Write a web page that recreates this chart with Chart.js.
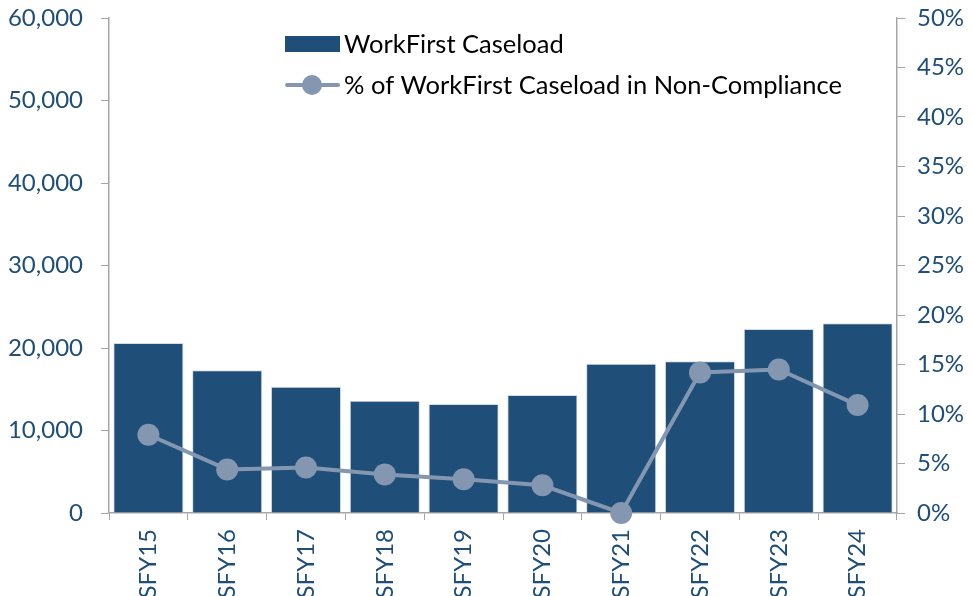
<!DOCTYPE html>
<html>
<head>
<meta charset="utf-8">
<script src="https://cdn.jsdelivr.net/npm/chart.js@4/dist/chart.umd.min.js"></script>
<style>
  html, body { margin: 0; padding: 0; background: #fff; }
  #wrap { width: 972px; height: 596px; }
</style>
</head>
<body>
<div id="wrap"><canvas id="chart" width="972" height="596"></canvas></div>
<script>
const years = ["SFY15", "SFY16", "SFY17", "SFY18", "SFY19", "SFY20", "SFY21", "SFY22", "SFY23", "SFY24"];
const caseload = [20600, 17300, 15300, 13600, 13200, 14300, 18100, 18400, 22300, 23000];
const nonCompliancePct = [7.9, 4.4, 4.6, 3.9, 3.4, 2.8, 0, 14.2, 14.5, 10.9];

const barLabel = "WorkFirst Caseload";
const lineLabel = "% of WorkFirst Caseload in Non-Compliance";

const barColor = "#1F4E79";
const lineColor = "#8497B0";
const tickColor = "#1F4E79";
const axisColor = "#A6A6A6";
const fontFamily = "Lato, 'Liberation Sans', sans-serif";

// legend sits inside the plot, drawn by hand
const insideLegend = {
    id: "insideLegend",
    afterDraw(chart) {
        const ctx = chart.ctx;
        ctx.save();
        ctx.font = "25.5px " + fontFamily;
        ctx.textBaseline = "middle";

        ctx.fillStyle = barColor;
        ctx.fillRect(285, 36, 55, 16);
        ctx.fillStyle = "#000";
        ctx.fillText(barLabel, 344, 45);

        ctx.strokeStyle = lineColor;
        ctx.lineWidth = 4;
        ctx.lineCap = "round";
        ctx.beginPath();
        ctx.moveTo(287, 85);
        ctx.lineTo(338, 85);
        ctx.stroke();
        ctx.fillStyle = lineColor;
        ctx.beginPath();
        ctx.arc(312, 85, 10, 0, Math.PI * 2);
        ctx.fill();
        ctx.fillStyle = "#000";
        ctx.fillText(lineLabel, 344, 86);
        ctx.restore();
    }
};

function fixSide(width) {
    return function (scale) {
        scale.width = width;
        scale.paddingTop = 0;
        scale.paddingBottom = 0;
    };
}

const ctx = document.getElementById("chart").getContext("2d");

new Chart(ctx, {
    type: "bar",
    data: {
        labels: years,
        datasets: [
            {
                type: "line",
                label: lineLabel,
                data: nonCompliancePct,
                yAxisID: "y2",
                borderColor: lineColor,
                backgroundColor: lineColor,
                borderWidth: 4,
                pointRadius: 11,
                pointHoverRadius: 11,
                pointBorderWidth: 0,
                tension: 0,
                clip: false,
                order: 0
            },
            {
                type: "bar",
                label: barLabel,
                data: caseload,
                yAxisID: "y",
                backgroundColor: barColor,
                borderColor: "#D6DCE5",
                borderWidth: 1,
                barPercentage: 0.89,
                categoryPercentage: 1.0,
                order: 1
            }
        ]
    },
    options: {
        responsive: false,
        animation: false,
        layout: { padding: { top: 18, left: 0, right: 0, bottom: 0 } },
        plugins: {
            legend: { display: false },
            tooltip: { enabled: false }
        },
        scales: {
            x: {
                offset: true,
                grid: {
                    display: true,
                    offset: true,
                    drawOnChartArea: false,
                    drawTicks: true,
                    tickLength: 7,
                    color: axisColor
                },
                border: { display: true, color: axisColor, width: 1.5 },
                ticks: {
                    color: tickColor,
                    font: { family: fontFamily, size: 24 },
                    minRotation: 90,
                    maxRotation: 90,
                    padding: 9
                },
                afterFit(scale) { scale.height = 83; }
            },
            y: {
                position: "left",
                min: 0,
                max: 60000,
                grid: {
                    display: true,
                    drawOnChartArea: false,
                    drawTicks: true,
                    tickLength: 8,
                    color: axisColor
                },
                border: { display: true, color: axisColor, width: 1.5 },
                ticks: {
                    stepSize: 10000,
                    color: tickColor,
                    font: { family: fontFamily, size: 24 },
                    padding: 18,
                    callback: v => v.toLocaleString("en-US")
                },
                afterFit: fixSide(109)
            },
            y2: {
                position: "right",
                min: 0,
                max: 50,
                grid: {
                    display: true,
                    drawOnChartArea: false,
                    drawTicks: true,
                    tickLength: 8,
                    color: axisColor
                },
                border: { display: true, color: axisColor, width: 1.5 },
                ticks: {
                    stepSize: 5,
                    color: tickColor,
                    font: { family: fontFamily, size: 24 },
                    padding: 12,
                    callback: v => v + "%"
                },
                afterFit: fixSide(75)
            }
        }
    },
    plugins: [insideLegend]
});
</script>
</body>
</html>
